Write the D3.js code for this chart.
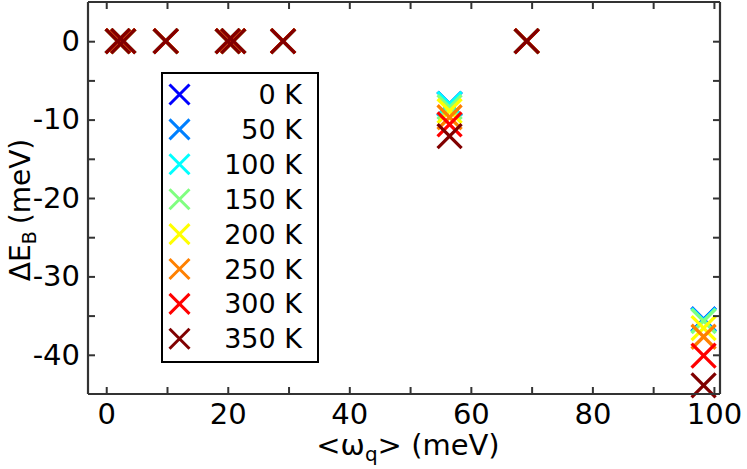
<!DOCTYPE html>
<html><head><meta charset="utf-8">
<script src="https://cdn.jsdelivr.net/npm/d3@7"></script>
<style>
html,body{margin:0;padding:0;background:#fff;}
svg{display:block;font-family:"DejaVu Sans",Verdana,sans-serif;}
</style></head>
<body><svg id="chart" width="747" height="469"></svg>
<script>
// ---- data ----
const omega = [1.9, 2.8, 9.8, 20.0, 20.9, 29.1, 56.5, 69.2, 98.3];
const temperatures = ["0 K", "50 K", "100 K", "150 K", "200 K", "250 K", "300 K", "350 K"];
const colors = ["#0000ff", "#0080ff", "#00ffff", "#80ff80", "#ffff00", "#ff8000", "#ff0000", "#800000"];
const dE_0K   = [0, 0, 0, 0, 0, 0, -8.0, 0, -35.5];
const dE_50K  = [0, 0, 0, 0, 0, 0, -8.0, 0, -35.5];
const dE_100K = [0, 0, 0, 0, 0, 0, -8.0, 0, -35.6];
const dE_150K = [0, 0, 0, 0, 0, 0, -8.4, 0, -35.7];
const dE_200K = [0, 0, 0, 0, 0, 0, -8.9, 0, -36.6];
const dE_250K = [0, 0, 0, 0, 0, 0, -9.7, 0, -37.7];
const dE_300K = [0, 0, 0, 0, 0, 0, -10.6, 0, -40.1];
const dE_350K = [0, 0, 0, 0, 0, 0, -12.1, 0, -43.9];
const seriesValues = [dE_0K, dE_50K, dE_100K, dE_150K, dE_200K, dE_250K, dE_300K, dE_350K];
const xTicks = [0, 20, 40, 60, 80, 100];
const xMinorTicks = [0, 10, 20, 30, 40, 50, 60, 70, 80, 90, 100];
const yTicks = [0, -10, -20, -30, -40];
const yMinorTicks = [0, -5, -10, -15, -20, -25, -30, -35, -40];

// ---- layout ----
const W = 747, H = 469;
const m = {left: 88, right: 27, top: 2, bottom: 75};
const svg = d3.select("#chart");
const x = d3.scaleLinear().domain([-3, 101]).range([m.left, W - m.right]);
const y = d3.scaleLinear().domain([-45, 5]).range([H - m.bottom, m.top]);
const axisColor = "#333";
const fs = 29;
const lfs = 28;
const tickLen = 7;

// markers
const ms = 12;
const g = svg.append("g");
seriesValues.forEach((vals, i) => {
  const pts = omega.map((o, j) => [o, vals[j]]);
  const sg = g.append("g").attr("stroke", colors[i]).attr("stroke-width", 3.3).attr("fill", "none");
  sg.selectAll("path").data(pts).enter().append("path")
    .attr("d", d => {
      const cx = x(d[0]), cy = y(d[1]);
      return `M${cx-ms},${cy-ms}L${cx+ms},${cy+ms}M${cx-ms},${cy+ms}L${cx+ms},${cy-ms}`;
    });
});

// axes (box with inward ticks on all sides)
const bottomAxis = d3.axisBottom(x).tickValues(xMinorTicks).tickSize(-tickLen).tickFormat(d => xTicks.includes(d) ? d : "").tickPadding(9);
const topAxis = d3.axisTop(x).tickValues(xMinorTicks).tickSize(-tickLen).tickFormat("");
const leftAxis = d3.axisLeft(y).tickValues(yMinorTicks).tickSize(-tickLen).tickFormat(d => yTicks.includes(d) ? d : "").tickPadding(8);
const rightAxis = d3.axisRight(y).tickValues(yMinorTicks).tickSize(-tickLen).tickFormat("");

function style(sel) {
  sel.selectAll("path.domain").attr("stroke", axisColor).attr("stroke-width", 2.2);
  sel.selectAll(".tick line").attr("stroke", axisColor).attr("stroke-width", 2);
  sel.selectAll(".tick text").attr("fill", "#000").attr("font-size", null).attr("font-family", null)
    .style("font-size", fs + "px").style("font-family", "DejaVu Sans");
}
style(svg.append("g").attr("transform", `translate(0,${H - m.bottom})`).call(bottomAxis).call(s => s.selectAll("path.domain").attr("d", `M${m.left},0H${W - m.right}`)));
style(svg.append("g").attr("transform", `translate(0,${m.top})`).call(topAxis).call(s => s.selectAll("path.domain").attr("d", `M${m.left},0H${W - m.right}`)));
style(svg.append("g").attr("transform", `translate(${m.left},0)`).call(leftAxis).call(s => s.selectAll("path.domain").attr("d", `M0,${m.top}V${H - m.bottom}`)));
style(svg.append("g").attr("transform", `translate(${W - m.right},0)`).call(rightAxis).call(s => s.selectAll("path.domain").attr("d", `M0,${m.top}V${H - m.bottom}`)));

// axis labels
const xl = svg.append("text").attr("x", 408).attr("y", 455).attr("text-anchor", "middle")
  .style("font-size", "29px");
xl.append("tspan").text("<ω");
xl.append("tspan").attr("baseline-shift", "-30%").style("font-size", "20px").text("q");
xl.append("tspan").text("> (meV)");

const yl = svg.append("text").attr("transform", "translate(30,210) rotate(-90)").attr("text-anchor", "middle")
  .style("font-size", lfs + "px");
yl.append("tspan").text("ΔE");
yl.append("tspan").attr("baseline-shift", "-30%").style("font-size", "19px").text("B");
yl.append("tspan").attr("dx", 7).text("(meV)");

// legend
const lg = svg.append("g");
lg.append("rect").attr("x", 162).attr("y", 73).attr("width", 156).attr("height", 289)
  .attr("fill", "#fff").attr("stroke", "#000").attr("stroke-width", 2);
const lms = 10;
temperatures.forEach((t, i) => {
  const cy = 94.5 + i * 34.9, cx = 179.5;
  lg.append("path").attr("d", `M${cx-lms},${cy-lms}L${cx+lms},${cy+lms}M${cx-lms},${cy+lms}L${cx+lms},${cy-lms}`)
    .attr("stroke", colors[i]).attr("stroke-width", 3).attr("fill", "none");
  lg.append("text").attr("x", 302).attr("y", cy + 9.5).attr("text-anchor", "end")
    .style("font-size", "27px").text(t);
});
</script></body></html>
